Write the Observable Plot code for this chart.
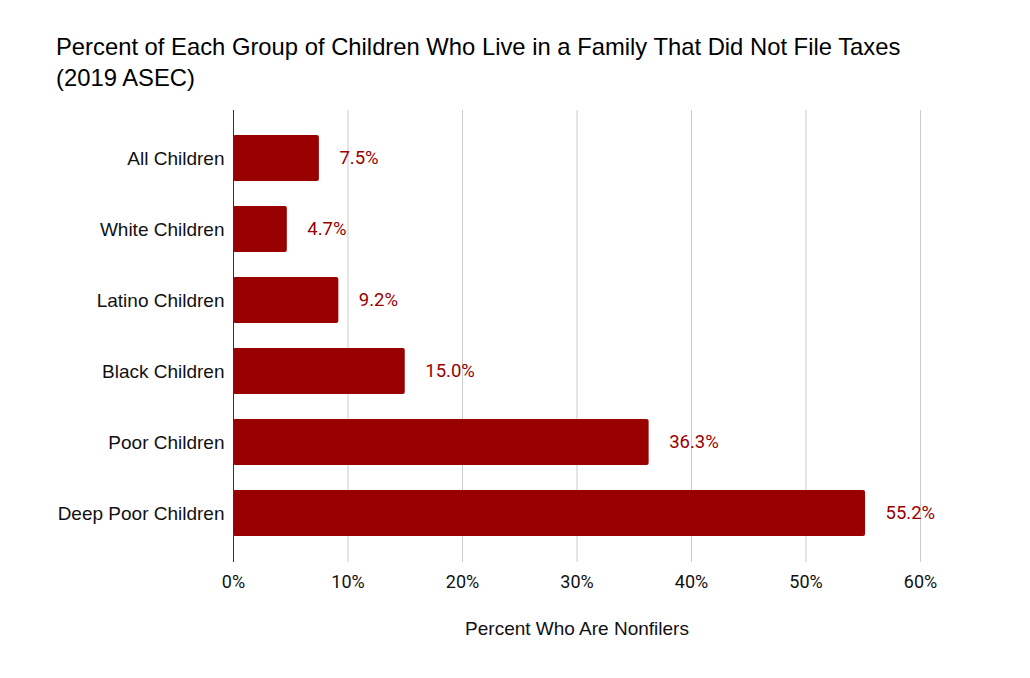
<!DOCTYPE html>
<html>
<head>
<meta charset="utf-8">
<script src="https://cdn.jsdelivr.net/npm/d3@7"></script>
<script src="https://cdn.jsdelivr.net/npm/@observablehq/plot@0.6"></script>
<style>
  body { margin: 0; background: #fff; }
  #title { height: 108px; box-sizing: border-box; padding: 31px 0 0 56px; font: 23.8px "Liberation Sans", Arial, sans-serif; line-height: 31px; color: #000; }
  #chart svg { display: block; }
</style>
</head>
<body>
<div id="title">Percent of Each Group of Children Who Live in a Family That Did Not File Taxes<br>(2019 ASEC)</div>
<div id="chart"></div>
<script>
const categories = ["All Children", "White Children", "Latino Children", "Black Children", "Poor Children", "Deep Poor Children"];
const values = [7.5, 4.7, 9.2, 15.0, 36.3, 55.2];
const xTicks = [0, 10, 20, 30, 40, 50, 60];
const xTitle = "Percent Who Are Nonfilers";

const data = categories.map((c, i) => ({category: c, value: values[i]}));
const red = "#990000";

const chart = Plot.plot({
  width: 1030,
  height: 552,
  marginTop: 2,
  marginBottom: 98,
  marginLeft: 233,
  marginRight: 110,
  style: {background: "#fff", overflow: "visible"},
  x: {domain: [0, 60], ticks: xTicks},
  y: {domain: categories, padding: 0.35},
  marks: [
    Plot.ruleX(xTicks.filter(d => d > 0), {stroke: "#cccccc", strokeWidth: 1}),
    Plot.barX(data, {x: "value", y: "category", fill: red, rx: 2}),
    Plot.ruleX([0], {stroke: "#333333", strokeWidth: 1}),
    Plot.text(data, {x: "value", y: "category", text: d => d.value.toFixed(1) + "%", dx: 20, textAnchor: "start", fill: red, fontSize: 18.5, fontFamily: "Roboto"}),
    Plot.axisX({ticks: xTicks, tickFormat: d => d + "%", tickSize: 0, tickPadding: 13, fontSize: 18, fontFamily: "Roboto", color: "#111", label: null}),
    Plot.axisY({tickSize: 0, tickPadding: 9, fontSize: 19, fontFamily: "Liberation Sans", color: "#111", label: null}),
    Plot.text([xTitle], {frameAnchor: "bottom", dy: 72, text: d => d, fontSize: 19, fontFamily: "Liberation Sans", fill: "#111"})
  ]
});
document.getElementById("chart").appendChild(chart);
</script>
</body>
</html>
